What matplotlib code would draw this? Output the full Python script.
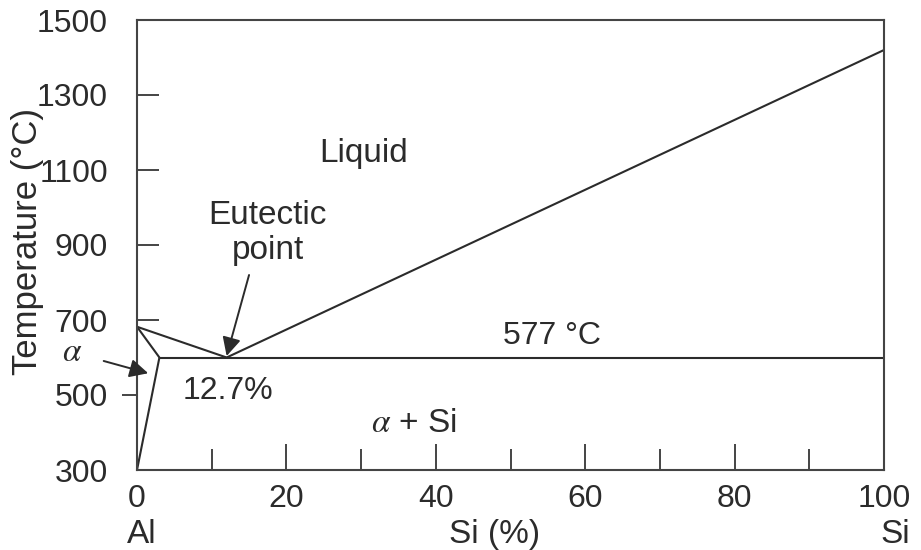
import matplotlib
matplotlib.use("Agg")
import matplotlib.pyplot as plt
from matplotlib import lines as mlines

plt.rcParams['font.family'] = ['Liberation Sans', 'DejaVu Sans']
plt.rcParams['mathtext.fontset'] = 'stix'

# phase boundaries (Si %, temperature C)
liq_al_x = [0, 12.0]
liq_al_t = [682, 600]
liq_si_x = [12.0, 100]
liq_si_t = [600, 1420]
solidus_x = [0, 3.0]
solidus_t = [682, 600]
solvus_x = [0, 3.0]
solvus_t = [300, 600]
eut_x = [3.0, 100]
eut_t = [600, 600]

xticks = [0, 20, 40, 60, 80, 100]
xminor = [10, 30, 50, 70, 90]
yticks = [300, 500, 700, 900, 1100, 1300, 1500]

ink = '#2b2b2b'
fs = 23   # numbers
fw = 24   # words

fig = plt.figure(figsize=(9.21, 5.5), dpi=100)
ax = fig.add_axes([137/921, 1-470/550, (884-137)/921, (470-20)/550])

for xs, ts in [(liq_al_x, liq_al_t), (liq_si_x, liq_si_t), (solidus_x, solidus_t),
               (solvus_x, solvus_t), (eut_x, eut_t)]:
    ax.plot(xs, ts, color=ink, lw=1.5, solid_capstyle='butt')

ax.set_xlim(0, 100)
ax.set_ylim(300, 1500)
ax.set_xticks(xticks)
ax.set_xticks(xminor, minor=True)
ax.set_yticks(yticks)
ax.tick_params(axis='x', which='major', direction='in', length=18.5, width=1.4,
               color='#444444', labelsize=fs, labelcolor=ink, pad=10)
ax.tick_params(axis='x', which='minor', direction='in', length=15, width=1.4, color='#444444')
ax.tick_params(axis='y', which='major', direction='in', length=16, width=1.4,
               color='#444444', labelsize=fs, labelcolor=ink, pad=21)
for s in ax.spines.values():
    s.set_color('#444444')
    s.set_linewidth(1.5)

# the 500 tick sticks out to the left in the original
yt = ax.yaxis.get_major_ticks()
yt[1].tick1line.set_marker(mlines.TICKLEFT)
yt[1].tick1line.set_markersize(11)

ax.set_ylabel('Temperature (°C)', fontsize=25, color=ink)
ax.yaxis.set_label_coords(-0.124, 0.507)

tr = ax.get_xaxis_transform()
ax.text(0.6, -0.143, 'Al', transform=tr, ha='center', va='center', fontsize=fw, color=ink)
ax.text(101.5, -0.143, 'Si', transform=tr, ha='center', va='center', fontsize=fw, color=ink)
ax.text(47.9, -0.143, 'Si (%)', transform=tr, ha='center', va='center', fontsize=fw, color=ink)

ax.text(30.4, 1145, 'Liquid', ha='center', va='center', fontsize=fw, color=ink)
ax.text(17.5, 932, 'Eutectic\npoint', ha='center', va='center', fontsize=fw, color=ink,
        linespacing=1.2)
ax.text(12.2, 511, '12.7%', ha='center', va='center', fontsize=fs, color=ink)
ax.text(55.6, 657, '577 °C', ha='center', va='center', fontsize=fs, color=ink)
ax.text(37.1, 423, r'$\alpha$ + Si', ha='center', va='center', fontsize=fw, color=ink)

ax.annotate('', xy=(12.0, 604), xytext=(15.0, 820),
            arrowprops=dict(arrowstyle='-|>', color=ink, lw=1.4, mutation_scale=28,
                            shrinkA=0, shrinkB=0))
ax.annotate(r'$\alpha$', xy=(1.5, 558), xytext=(-8.7, 614), ha='center', va='center',
            fontsize=fw, color=ink, annotation_clip=False,
            arrowprops=dict(arrowstyle='-|>', color=ink, lw=1.4, mutation_scale=28,
                            shrinkA=14, shrinkB=0))

fig.savefig('out.png', dpi=100)
